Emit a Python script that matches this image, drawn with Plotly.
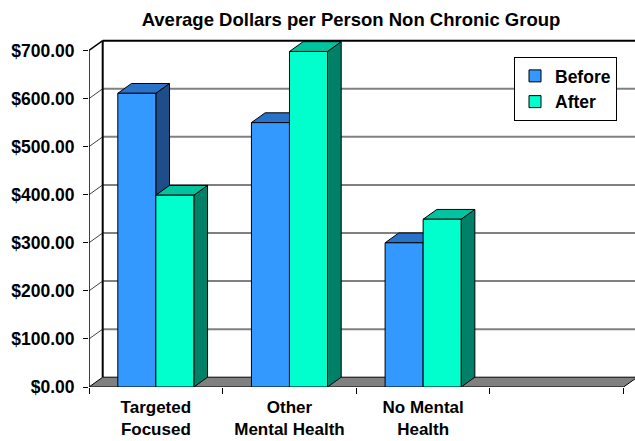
import plotly.graph_objects as go

# ---------------- data ----------------
categories = ["Targeted<br>Focused", "Other<br>Mental Health", "No Mental<br>Health", ""]
before = [611, 550, 300, None]
after = [399, 698, 349, None]
series_names = ["Before", "After"]
y_ticks = [0, 100, 200, 300, 400, 500, 600, 700]
title_text = "Average Dollars per Person Non Chronic Group"

# ---------------- styling / geometry ----------------
FONT = "Arial, Liberation Sans, sans-serif"
W_PX, H_PX = 635, 441
M_L, M_R, M_T, M_B = 89, 0, 36, 54
X_PX_PER_UNIT = 133.65
Y_PX_PER_UNIT = 0.4807
XMAX = (W_PX - M_L - M_R) / X_PX_PER_UNIT
YMAX = (H_PX - M_T - M_B) / Y_PX_PER_UNIT
DX = 13.7 / X_PX_PER_UNIT      # depth offset (x units)
DY = 9.8 / Y_PX_PER_UNIT       # depth offset (y units)
BAR_W = 0.2845
NCAT = len(categories)
YTOP = max(y_ticks)

front_colors = ["#3399FF", "#00FFCC"]
top_colors = ["#2873C8", "#00C3A0"]
side_colors = ["#1D4E89", "#008066"]
values = [before, after]

shapes = []


def path(pts, close=True):
    s = "M " + " L ".join(f"{x},{y}" for x, y in pts)
    return s + (" Z" if close else "")


# gridlines on side wall (diagonal) and back wall (horizontal)
for v in y_ticks[1:]:
    is_top = v == YTOP
    shapes.append(dict(type="line", xref="x", yref="y", layer="below",
                       x0=0, y0=v, x1=DX, y1=v + DY,
                       line=dict(color="black" if is_top else "#404040", width=1.5 if is_top else 1)))
    shapes.append(dict(type="line", xref="x", yref="y", layer="below",
                       x0=DX, y0=v + DY, x1=XMAX + 1, y1=v + DY,
                       line=dict(color="black" if is_top else "#808080", width=2)))

# back wall left edge and front value axis
shapes.append(dict(type="line", xref="x", yref="y", layer="below",
                   x0=DX, y0=DY, x1=DX, y1=YTOP + DY, line=dict(color="black", width=2)))
shapes.append(dict(type="line", xref="x", yref="y", layer="below",
                   x0=0, y0=0, x1=0, y1=YTOP, line=dict(color="black", width=1.5)))

# floor
shapes.append(dict(type="path", xref="x", yref="y", layer="below",
                   path=path([(0, 0), (NCAT, 0), (NCAT + DX, DY), (DX, DY)]),
                   fillcolor="#808080", line=dict(color="black", width=1)))

# 3D faces of bars (top + side), drawn under the bar fronts
for i in range(NCAT):
    for s in range(2):
        v = values[s][i]
        if v is None:
            continue
        x0 = i + 0.5 - BAR_W + s * BAR_W
        x1 = x0 + BAR_W
        shapes.append(dict(type="path", xref="x", yref="y", layer="below",
                           path=path([(x1, 0), (x1 + DX, DY), (x1 + DX, v + DY), (x1, v)]),
                           fillcolor=side_colors[s], line=dict(color="black", width=1)))
        shapes.append(dict(type="path", xref="x", yref="y", layer="below",
                           path=path([(x0, v), (x1, v), (x1 + DX, v + DY), (x0 + DX, v + DY)]),
                           fillcolor=top_colors[s], line=dict(color="black", width=1)))

fig = go.Figure()
centers = [i + 0.5 for i in range(NCAT)]
for s in range(2):
    fig.add_trace(go.Bar(
        x=centers, y=values[s], name=series_names[s],
        width=BAR_W, offset=-BAR_W + s * BAR_W,
        marker=dict(color=front_colors[s], line=dict(color="black", width=1)),
    ))

# dummy trace so category label axis is drawn
fig.add_trace(go.Scatter(x=[None], y=[None], xaxis="x2", showlegend=False, hoverinfo="skip"))

fig.update_layout(
    width=W_PX, height=H_PX,
    margin=dict(l=M_L, r=M_R, t=M_T, b=M_B, pad=0),
    paper_bgcolor="white", plot_bgcolor="white",
    shapes=shapes,
    showlegend=True,
    font=dict(family=FONT, size=17, color="black"),
    title=dict(text=title_text, x=351 / W_PX, xref="container", xanchor="center",
               y=1 - 20 / H_PX, yref="container", yanchor="middle", automargin=False,
               font=dict(family=FONT, size=18.5, color="black", weight="bold")),
    legend=dict(x=(514 - M_L) / (W_PX - M_L - M_R), y=(H_PX - M_B - 57) / (H_PX - M_T - M_B),
                xanchor="left", yanchor="top",
                bgcolor="white", bordercolor="black", borderwidth=1,
                font=dict(family=FONT, size=17.5, color="black", weight="bold")),
    xaxis=dict(range=[0, XMAX], tickvals=list(range(NCAT + 1)), ticktext=[""] * (NCAT + 1),
               ticks="outside", ticklen=6, tickcolor="black", tickwidth=1, automargin=False,
               showgrid=False, zeroline=False, showline=False, fixedrange=True),
    xaxis2=dict(range=[0, XMAX], overlaying="x", anchor="y", side="bottom",
                tickvals=centers, ticktext=categories, ticks="", ticklabelstandoff=8,
                automargin=False,
                tickfont=dict(family=FONT, size=17, color="black", weight="bold"),
                showgrid=False, zeroline=False, showline=False),
    yaxis=dict(range=[0, YMAX], tickvals=y_ticks, tickformat="$,.2f",
               ticks="outside", ticklen=5, tickcolor="black", tickwidth=1,
               ticklabelstandoff=5, automargin=False,
               tickfont=dict(family=FONT, size=17.5, color="black", weight="bold"),
               showgrid=False, zeroline=False, showline=False),
)

fig.write_html("out.html")
